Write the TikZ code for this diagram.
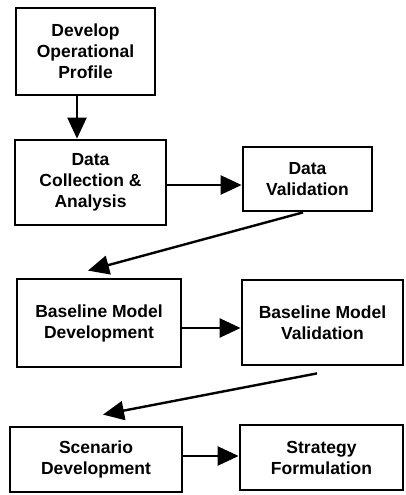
\documentclass[tikz,border=0pt]{standalone}
\usepackage{fontspec}
\setmainfont{Liberation Sans}
\usetikzlibrary{arrows.meta}
\tikzset{
	box/.style 2 args={draw,line width=2.8pt,minimum width=#1,minimum height=#2,inner sep=0pt,align=center,font=\bfseries\fontsize{17.5}{21}\selectfont},
	flow/.style={-{Triangle[length=21pt,width=19pt]},line width=2.4pt}
}
\begin{document}
\begin{tikzpicture}[x=1pt,y=-1pt]
	\useasboundingbox (0,0) rectangle (406,495);
	\node [box={139pt}{87pt}] (profile) at (85.5,51.5) {Develop\\Operational\\Profile};
	\node [box={151pt}{85pt}] (collect) at (90.5,182.5) {Data\\Collection \&\\Analysis};
	\node [box={129pt}{64pt}] (dataval) at (307.5,179) {Data\\Validation};
	\node [box={164pt}{88pt}] (basedev) at (99,323) {Baseline Model\\Development};
	\node [box={161pt}{85pt}] (baseval) at (322.5,322.5) {Baseline Model\\Validation};
	\node [box={172pt}{65pt}] (scendev) at (96,459.5) {Scenario\\Development};
	\node [box={163pt}{65pt}] (strategy) at (321.5,457.5) {Strategy\\Formulation};

	\draw [flow] ([xshift=-8.5pt]profile.south) -- ([xshift=-8.5pt]profile.south |- collect.north);
	\draw [flow] ([yshift=-2.5pt]collect.east) -- ([yshift=-2.5pt]collect.east -| dataval.west);
	\draw [flow] ([xshift=-4.5pt]dataval.south) -- ([xshift=-11pt,yshift=7pt]basedev.north);
	\draw [flow] ([yshift=-5pt]basedev.east) -- ([yshift=-5pt]basedev.east -| baseval.west);
	\draw [flow] ([xshift=-5.5pt,yshift=-7pt]baseval.south) -- ([xshift=7pt,yshift=11pt]scendev.north);
	\draw [flow] ([yshift=3.5pt]scendev.east) -- ([yshift=3.5pt]scendev.east -| strategy.west);
\end{tikzpicture}
\end{document}
